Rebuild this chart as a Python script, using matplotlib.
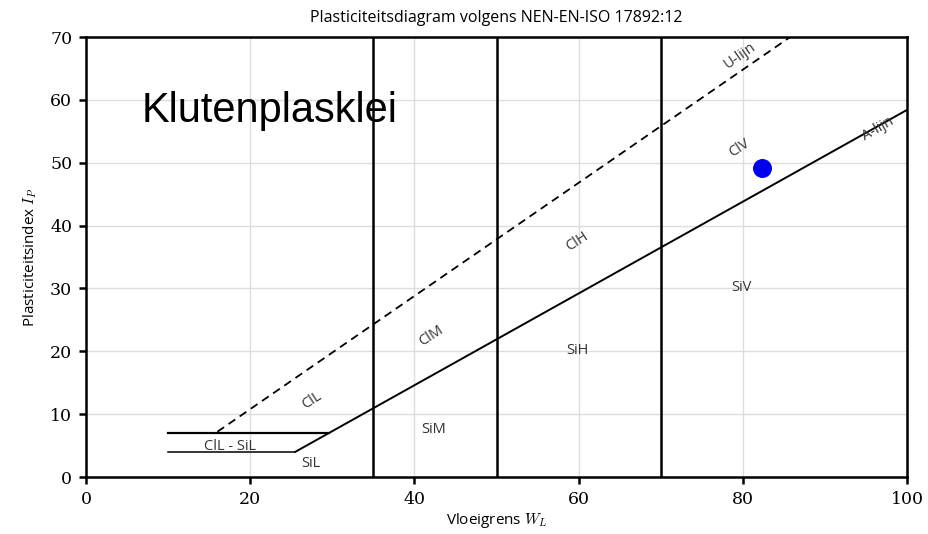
import numpy as np
import matplotlib.pyplot as plt

plt.rcParams['mathtext.fontset'] = 'cm'

# sample
sample_wl = [82.3]
sample_ip = [49.2]
sample_name = "Klutenplasklei"

# boundaries
wl_limits = [35, 50, 70]
a_line = (0.73, 20)     # Ip = 0.73 (WL - 20)
u_line = (0.9, 8)       # Ip = 0.9 (WL - 8)

zone_labels = ["ClL", "ClM", "ClH", "ClV", "SiL", "SiM", "SiH", "SiV", "ClL - SiL"]
zone_wl = [27.5, 42.1, 59.8, 79.6, 27.4, 42.4, 59.9, 79.8, 17.5]
zone_ip = [12.2, 22.4, 37.4, 52.3, 2.1, 7.6, 20.2, 30.2, 4.9]
zone_rot = [33, 33, 33, 33, 0, 0, 0, 0, 0]

fig = plt.figure(figsize=(9.29, 5.34), dpi=100)
ax = fig.add_axes([0.0926, 0.1067, 0.8837, 0.824])

ax.set_xlim(0, 100)
ax.set_ylim(0, 70)
ax.set_xticks(np.arange(0, 101, 20))
ax.set_yticks(np.arange(0, 71, 10))
ax.grid(True, color='#dddddd', linewidth=1.0)
ax.set_axisbelow(True)
for s in ax.spines.values():
    s.set_linewidth(1.8)
ax.tick_params(width=1.8, length=5, labelsize=12.5, pad=5)
for lbl in ax.get_xticklabels() + ax.get_yticklabels():
    lbl.set_fontfamily('DejaVu Serif')

# A-lijn
k, w0 = a_line
wl_a0 = 4 / k + w0
ax.plot([wl_a0, 100], [4, k * (100 - w0)], color='black', lw=1.4)
# U-lijn
k2, w2 = u_line
wl_u0 = 16
ax.plot([wl_u0, 70 / k2 + w2], [k2 * (wl_u0 - w2), 70], color='black', lw=1.3,
        ls=(0, (4.5, 3)))
# horizontal bands
ax.plot([10, 7 / k + w0], [7, 7], color='black', lw=1.6)
ax.plot([10, wl_a0], [4, 4], color='black', lw=1.1)
for w in wl_limits:
    ax.axvline(w, color='black', lw=1.8)

for t, x, y, r in zip(zone_labels, zone_wl, zone_ip, zone_rot):
    ax.text(x, y, t, rotation=r, ha='center', va='center', fontsize=10.5,
            color='#333333', family='Open Sans')
ax.text(79.7, 67.0, "U-lijn", rotation=35, ha='center', va='center', fontsize=10.5,
        color='#333333', family='Open Sans')
ax.text(96.5, 55.4, "A-lijn", rotation=30, ha='center', va='center', fontsize=10.5,
        color='#333333', family='Open Sans')

ax.scatter(sample_wl, sample_ip, s=160, color='#0000ee', zorder=5)
ax.text(6.8, 58.2, sample_name, fontsize=30, family='Liberation Sans',
        ha='left', va='center')

ax.set_title("Plasticiteitsdiagram volgens NEN-EN-ISO 17892:12", fontsize=11.5,
             family='Open Sans', pad=11)
ax.set_xlabel(r"Vloeigrens $W_L$", fontsize=11, family='Open Sans', labelpad=2)
ax.set_ylabel(r"Plasticiteitsindex $I_P$", fontsize=11, family='Open Sans', labelpad=8)

fig.savefig("out.png", dpi=100)
